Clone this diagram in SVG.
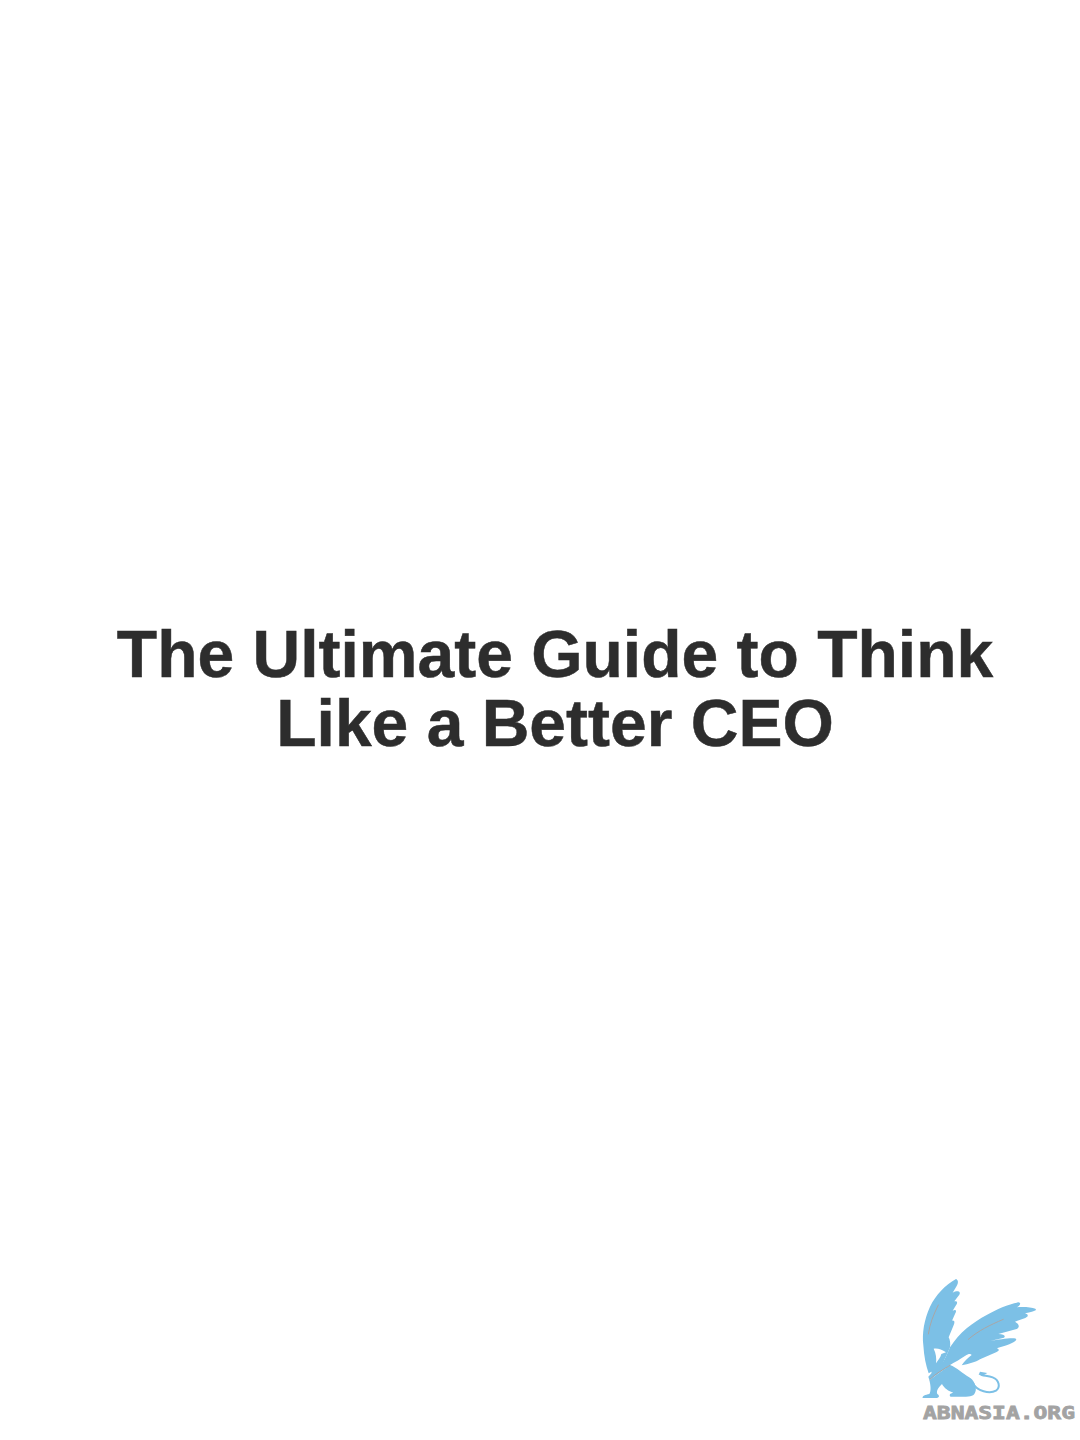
<svg xmlns="http://www.w3.org/2000/svg" width="1080" height="1440" viewBox="0 0 1080 1440">
<style>
.title{font-family:"Liberation Sans",Arial,sans-serif;font-weight:700;font-size:66px;fill:#2d2d2d;stroke:#2d2d2d;stroke-width:.5;text-anchor:middle}
.brand{font-family:"DejaVu Sans Mono","Liberation Mono",monospace;font-weight:700;font-size:18px;fill:#a3a3a3;stroke:#a3a3a3;stroke-width:.8}
.wing{fill:#7cc0e6}
.vein{fill:none;stroke:#a9a6a6;stroke-width:3;stroke-linecap:round}
</style>
<rect width="1080" height="1440" fill="#ffffff"/>
<g id="title">
<text class="title" x="555" y="677">The Ultimate Guide to Think</text>
<text class="title" x="555" y="746">Like a Better CEO</text>
</g>
<g id="logo">
<g transform="translate(900 1260) scale(.3333)">
<path id="left-wing" class="wing" d="M168 57 C176 60 175 70 170 78 L158 98 C172 90 184 94 178 104 L163 124 C172 122 174 128 168 136 L158 152 C170 146 170 154 165 162 L156 182 C166 180 164 190 160 198 L146 232 C150 240 152 250 150 262 L140 285 L130 305 L108 328 L86 340 C78 318 72 290 70 256 C66 220 72 180 90 140 C108 104 135 76 168 57 Z"/>
<path id="right-wing" class="wing" d="M150 262 C165 240 180 222 200 205 C220 188 240 176 260 165 C290 148 325 132 355 127 C364 128 362 136 350 142 C370 140 395 142 406 146 C412 150 404 155 375 160 C386 163 386 170 376 174 L345 185 C358 192 360 203 350 207 L295 222 C312 222 318 228 312 233 L270 243 C300 238 335 232 348 236 C352 242 340 250 290 265 C300 268 298 274 285 278 L240 298 C228 306 205 312 185 316 C192 304 204 294 215 285 C212 280 204 282 196 287 C180 298 165 306 150 315 L100 352 L88 360 L85 350 L108 325 L130 305 L140 285 Z"/>
<path id="body" class="wing" d="M88 360 L100 352 L150 315 C170 322 190 342 205 350 C222 358 232 382 226 396 C222 408 214 410 190 410 L152 410 C146 405 150 400 160 398 C146 394 132 384 126 372 C116 382 108 392 112 402 C118 406 120 412 110 414 L68 414 C66 408 76 404 88 402 C94 392 92 376 88 360 Z"/>
<path id="tail" d="M218 368 C230 395 270 402 288 392 C302 382 298 360 278 352 C262 346 246 348 240 342" fill="none" stroke="#7cc0e6" stroke-width="6"/>
<path class="wing" d="M236 344 L240 335 L262 339 L250 346 Z"/>
<path id="neck" class="wing" d="M96 268 C92 290 90 320 96 345 L120 325 C132 310 136 295 132 280 Z"/>
<path id="head" fill="#ffffff" d="M101 266 C112 264 126 268 138 277 L124 282 C122 292 114 300 108 310 C110 296 108 280 101 266 Z"/>
<path class="vein" d="M115 135 C100 165 90 190 85 222"/>
<path class="vein" d="M310 178 C270 195 235 212 205 238"/>
<path class="vein" d="M150 316 C130 328 105 342 90 358"/>
</g>
<text class="brand" x="923" y="1419" textLength="152" lengthAdjust="spacingAndGlyphs">ABNASIA.ORG</text>
</g>
</svg>
